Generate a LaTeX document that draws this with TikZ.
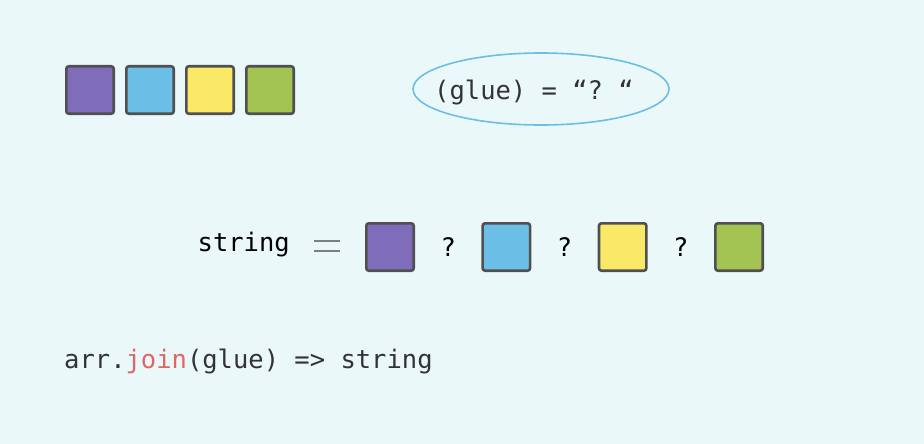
\documentclass[tikz,border=0pt]{standalone}
\usepackage{fontspec}
\setmonofont{DejaVu Sans Mono}
\usetikzlibrary{positioning,shapes.geometric}
\definecolor{bgc}{HTML}{EBF8FA}
\definecolor{edgec}{HTML}{505050}
\definecolor{purplec}{HTML}{7F6DBB}
\definecolor{bluec}{HTML}{6BBEE6}
\definecolor{yellowc}{HTML}{F9E966}
\definecolor{greenc}{HTML}{A3C452}
\definecolor{textc}{HTML}{333333}
\definecolor{redc}{HTML}{E06666}
\definecolor{eqc}{HTML}{7A8080}
\newcommand{\myunit}{50pt}
\tikzset{
    node style sq/.style={draw=edgec,line width=2.6pt,rounded corners=2.5pt,minimum size=\myunit-2.6pt,inner sep=0pt},
    node style tx/.style={font=\ttfamily\fontsize{25.5}{25.5}\selectfont,text=textc,inner sep=0pt},
    node style q/.style={font=\ttfamily\fontsize{25.5}{25.5}\selectfont,text=black,inner sep=0pt},
    line style eq/.style={draw=eqc,line width=2pt},
}

\begin{document}
\begin{tikzpicture}[x=1pt,y=-1pt]
  \fill[bgc] (0,0) rectangle (924,444);
  \useasboundingbox (0,0) rectangle (924,444);

  % the array
  \node[node style sq,fill=purplec] (a1) at (90,90) {};
  \node[node style sq,fill=bluec,right=10pt of a1] (a2) {};
  \node[node style sq,fill=yellowc,right=10pt of a2] (a3) {};
  \node[node style sq,fill=greenc,right=10pt of a3] (a4) {};

  % glue
  \node[ellipse,draw=bluec,line width=1.6pt,minimum width=256pt,minimum height=72pt] (glue) at (541,89) {};
  \node[node style tx] (gluetext) at (534,92) {(glue) = “? “};

  % result
  \node[node style q,anchor=east] (str) at (290,245) {string};
  \node[minimum width=26pt,minimum height=9pt,inner sep=0pt] (eq) at (327,246) {};
  \draw[line style eq] (eq.north west) -- (eq.north east);
  \draw[line style eq] (eq.south west) -- (eq.south east);
  \node[node style sq,fill=purplec] (b1) at (390,247) {};
  \node[node style q,right=25.3pt of b1] (q1) {?};
  \node[node style sq,fill=bluec,right=25.3pt of q1] (b2) {};
  \node[node style q,right=25.3pt of b2] (q2) {?};
  \node[node style sq,fill=yellowc,right=25.3pt of q2] (b3) {};
  \node[node style q,right=25.3pt of b3] (q3) {?};
  \node[node style sq,fill=greenc,right=25.3pt of q3] (b4) {};

  % signature
  \node[node style tx,anchor=west] (sig) at (64,361) {arr.\textcolor{redc}{join}(glue) => string};
\end{tikzpicture}
\end{document}
